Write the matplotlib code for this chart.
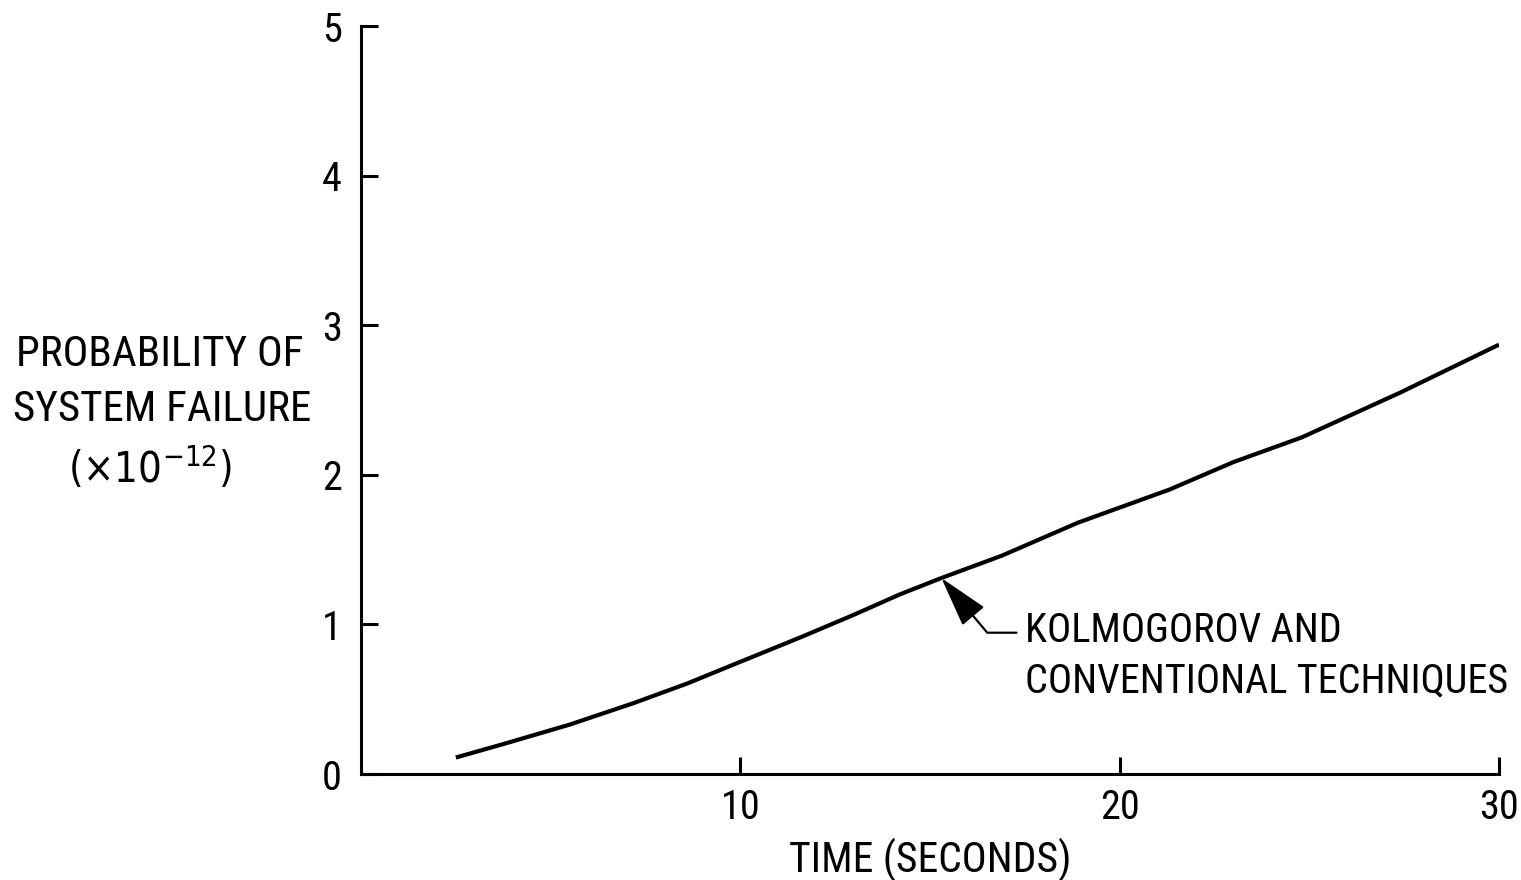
import matplotlib
matplotlib.use("Agg")
import matplotlib.pyplot as plt
from matplotlib import font_manager as fm

names = {f.name for f in fm.fontManager.ttflist}
cands = ['Liberation Sans Narrow', 'Roboto Condensed', 'Open Sans Condensed', 'Noto Sans Condensed',
         'DejaVu Sans Condensed']
FONT = next((c for c in cands if c in names), 'DejaVu Sans')
plt.rcParams['font.family'] = [FONT, 'DejaVu Sans']
plt.rcParams['font.stretch'] = 'condensed'

# Data
time_s = [2.5, 3.75, 5.5, 7.2, 8.6, 10.0, 11.6, 13.0, 14.2, 15.3, 16.9, 18.9, 21.3, 23.0, 24.8, 27.4, 30.0]
prob = [0.11, 0.20, 0.33, 0.475, 0.605, 0.75, 0.915, 1.065, 1.20, 1.31, 1.46, 1.68, 1.90, 2.085, 2.25, 2.55, 2.87]
x_ticks = [10, 20, 30]
y_ticks = [0, 1, 2, 3, 4, 5]
annot_xy = (15.3, 1.31)
annot_text_xy = (17.5, 0.79)

fig = plt.figure(figsize=(15.21, 8.80), dpi=100)
ax = fig.add_axes([361/1521, 1 - 774/880, (1499-361)/1521, (774-26)/880])
ax.plot(time_s, prob, color='black', lw=3.0, solid_capstyle='butt', solid_joinstyle='round')
ax.set_xlim(0, 30)
ax.set_ylim(0, 5)
for s in ['top', 'right']:
    ax.spines[s].set_visible(False)
for s in ['left', 'bottom']:
    ax.spines[s].set_linewidth(2.2)
ax.set_xticks(x_ticks)
ax.set_yticks(y_ticks)
ax.tick_params(direction='in', length=12, width=2.2, labelsize=29, pad=10)
ax.tick_params(axis='y', pad=14)

ax.set_xlabel('TIME (SECONDS)', fontsize=30, labelpad=8)

fig.text(160/1521, 1 - 355/880, 'PROBABILITY OF', fontsize=31, ha='center', va='center')
fig.text(162/1521, 1 - 409/880, 'SYSTEM FAILURE', fontsize=31, ha='center', va='center')
fig.text(150/1521, 1 - 468/880, r'$\left(\times10^{-12}\right)$', fontsize=30, ha='center', va='center',
         math_fontfamily='dejavusans')

ax.annotate('KOLMOGOROV AND\nCONVENTIONAL TECHNIQUES', xy=annot_xy, xycoords='data',
            xytext=annot_text_xy, textcoords='data', fontsize=29, ha='left', va='center',
            linespacing=1.35,
            arrowprops=dict(arrowstyle='-|>,head_length=1.6,head_width=0.45', color='black', lw=1.6,
                            mutation_scale=20, relpos=(0, 0.76),
                            connectionstyle='angle,angleA=0,angleB=130,rad=0',
                            shrinkA=4, shrinkB=0))

fig.savefig('out.png', dpi=100, facecolor='white')
